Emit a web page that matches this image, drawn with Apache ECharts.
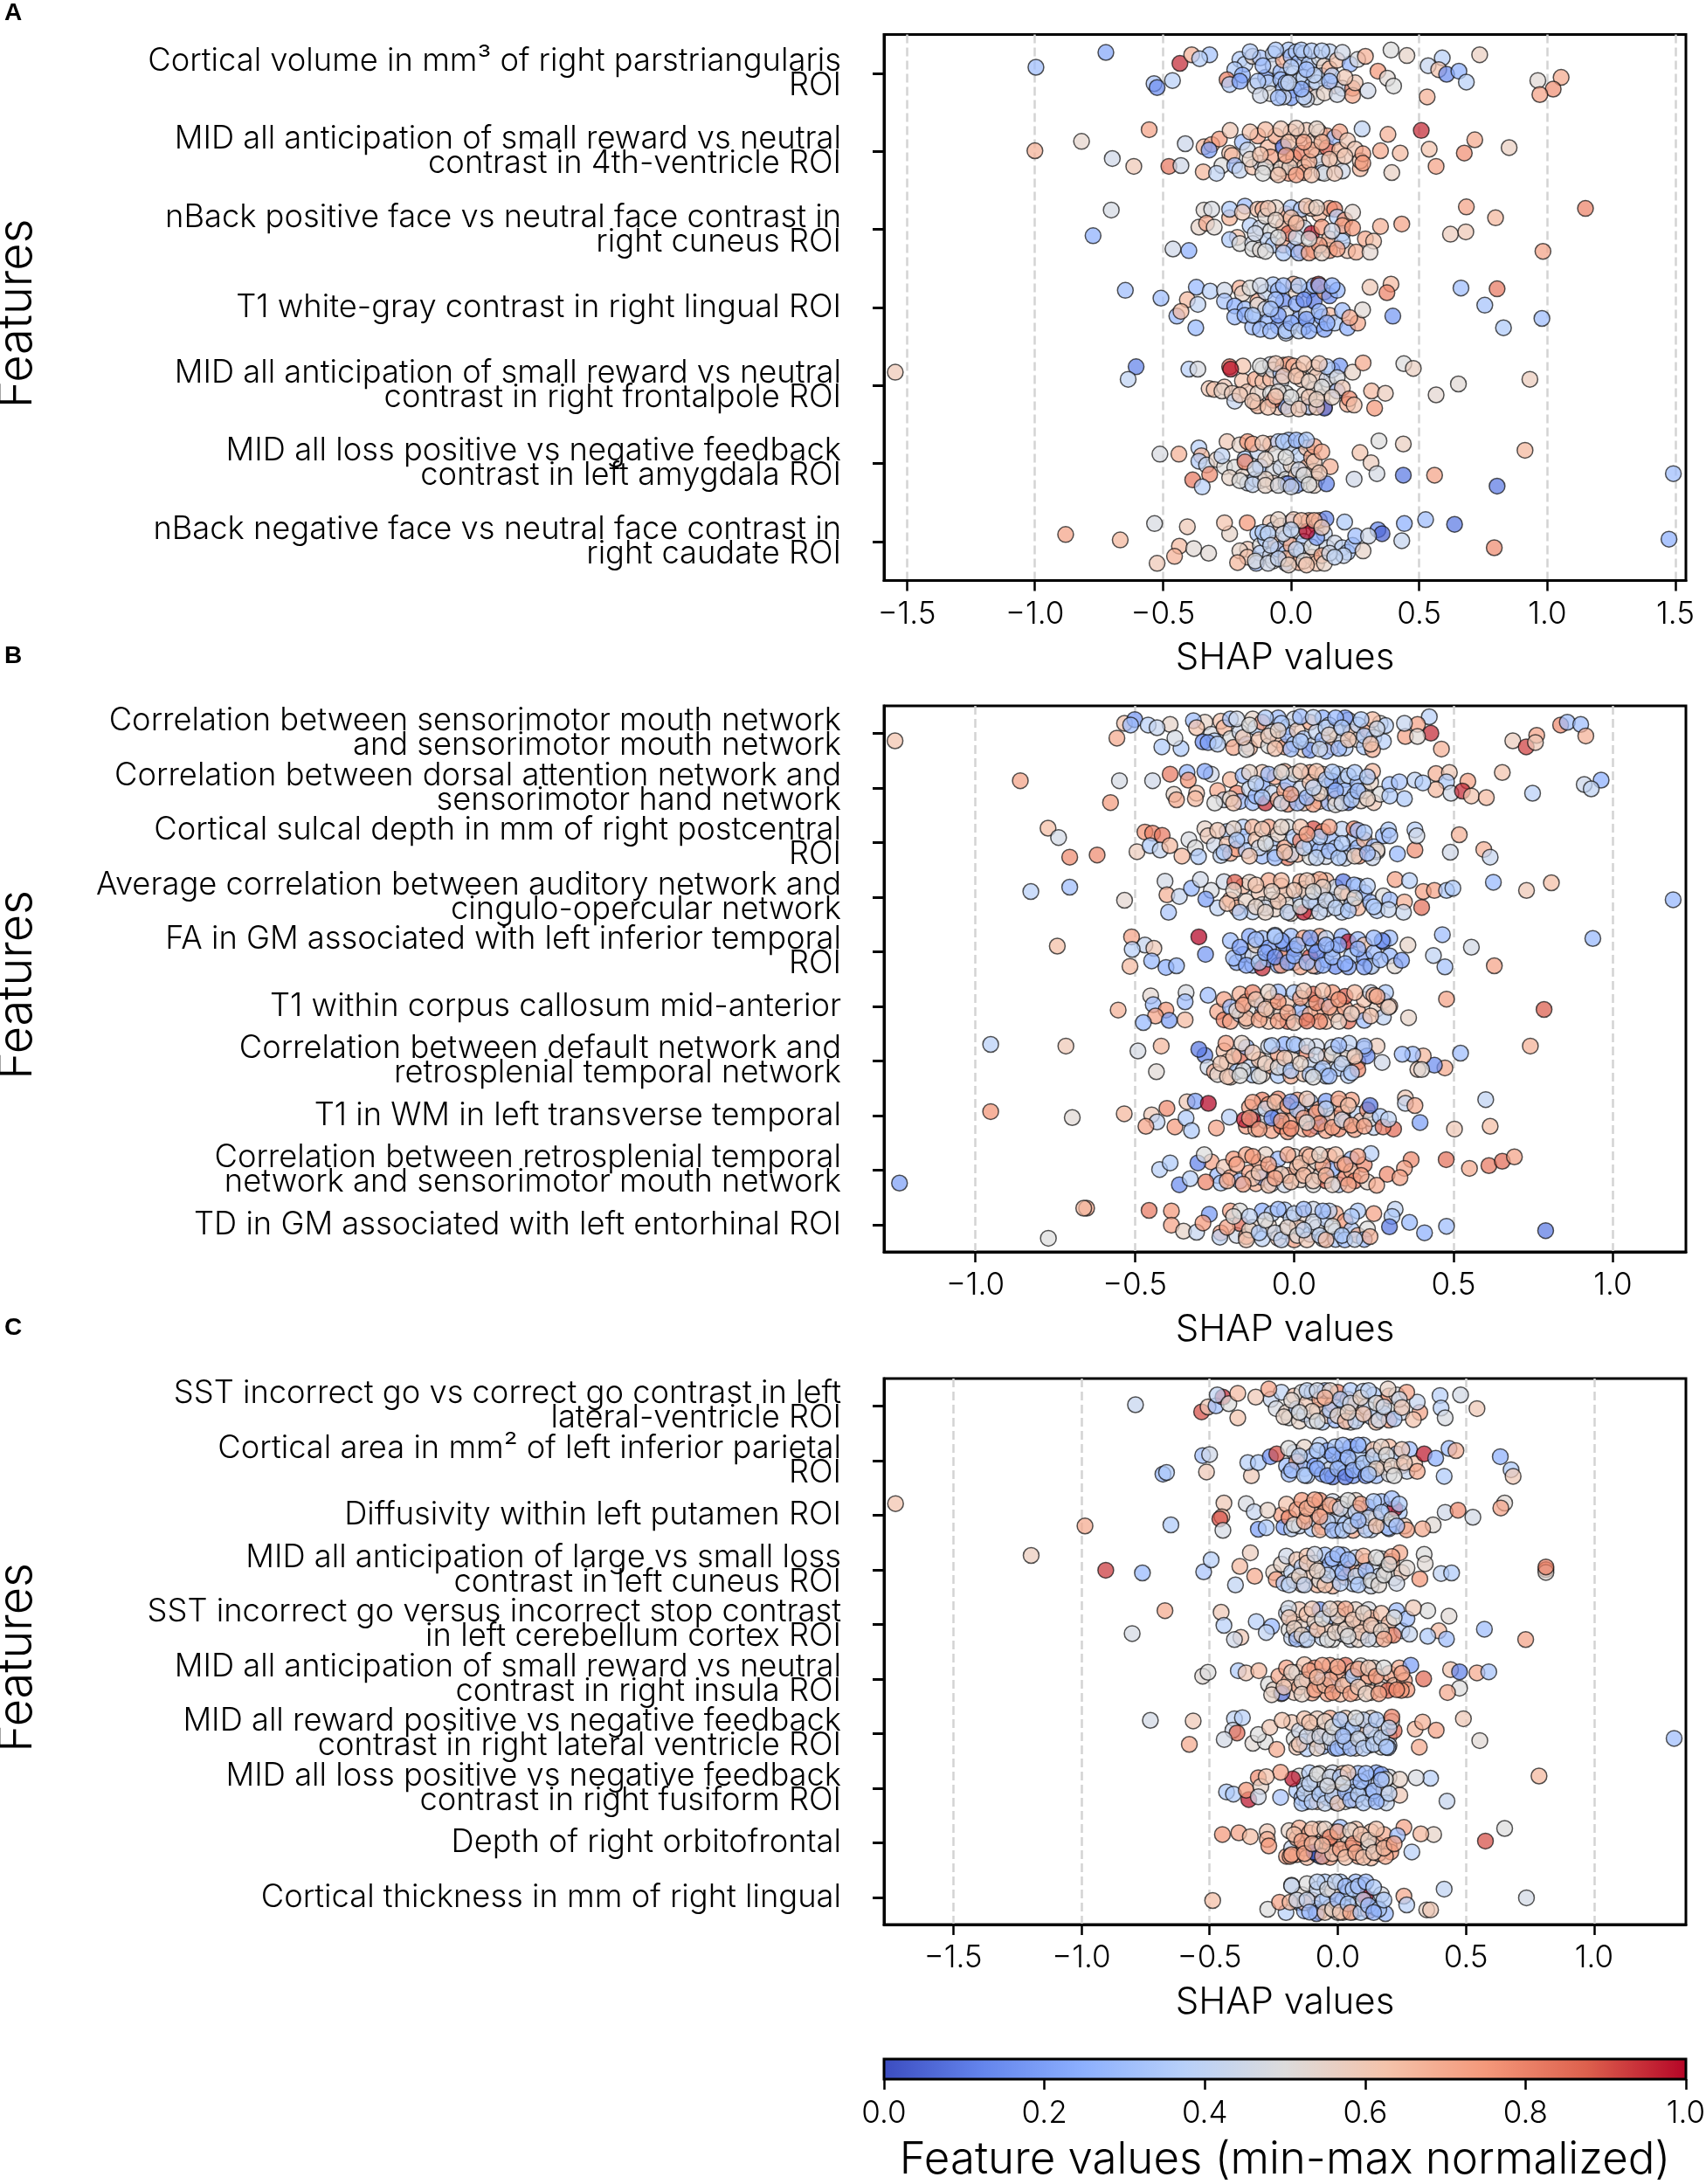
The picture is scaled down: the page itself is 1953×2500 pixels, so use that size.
<!DOCTYPE html>
<html><head><meta charset="utf-8">
<script src="https://cdn.jsdelivr.net/npm/echarts@6/dist/echarts.min.js"></script>
<style>html,body{margin:0;padding:0;background:#fff}#c{width:1953px;height:2500px}</style></head>
<body><div id="c"></div>
<script>
// each list: SHAP value, vertical jitter (row units), normalized feature value
const namesA=["Cortical volume in mm³ of right parstriangularis\nROI","MID all anticipation of small reward vs neutral\ncontrast in 4th-ventricle ROI","nBack positive face vs neutral face contrast in\nright cuneus ROI","T1 white-gray contrast in right lingual ROI","MID all anticipation of small reward vs neutral\ncontrast in right frontalpole ROI","MID all loss positive vs negative feedback\ncontrast in left amygdala ROI","nBack negative face vs neutral face contrast in\nright caudate ROI"];
const namesB=["Correlation between sensorimotor mouth network\nand sensorimotor mouth network","Correlation between dorsal attention network and\nsensorimotor hand network","Cortical sulcal depth in mm of right postcentral\nROI","Average correlation between auditory network and\ncingulo-opercular network","FA in GM associated with left inferior temporal\nROI","T1 within corpus callosum mid-anterior","Correlation between default network and\nretrosplenial temporal network","T1 in WM in left transverse temporal","Correlation between retrosplenial temporal\nnetwork and sensorimotor mouth network","TD in GM associated with left entorhinal ROI"];
const namesC=["SST incorrect go vs correct go contrast in left\nlateral-ventricle ROI","Cortical area in mm² of left inferior parietal\nROI","Diffusivity within left putamen ROI","MID all anticipation of large vs small loss\ncontrast in left cuneus ROI","SST incorrect go versus incorrect stop contrast\nin left cerebellum cortex ROI","MID all anticipation of small reward vs neutral\ncontrast in right insula ROI","MID all reward positive vs negative feedback\ncontrast in right lateral ventricle ROI","MID all loss positive vs negative feedback\ncontrast in right fusiform ROI","Depth of right orbitofrontal","Cortical thickness in mm of right lingual"];
const a0=[-.2,-.18,.36,-.18,-.12,.4,-.15,-.22,.55,-.22,-.05,.35,-.25,.08,.8,-.24,.14,.36,-.19,.02,.25,-.2,.1,.2,-.14,.16,.46,-.12,-.2,.33,-.1,.05,.18,-.07,-.25,.4,-.07,-.1,.45,-.09,.12,.38,-.08,.26,.5,-.04,-.02,.3,-.04,.08,.3,-.03,.2,.3,-.03,-.17,.68,-.01,-.3,.34,0,-.22,.3,.02,-.28,.36,.03,-.14,.3,.01,0,.47,.03,.1,.38,.01,.21,.36,0,.31,.2,.05,-.26,.42,.07,-.12,.34,.05,.05,.4,.08,.16,.35,.07,.27,.66,.11,-.2,.47,.13,-.1,.55,.12,.03,.38,.1,.12,.42,.1,.3,.5,.15,-.28,.4,.15,-.06,.66,.18,-.17,.62,.17,.16,.66,.2,.19,.42,.23,-.12,.27,.24,.19,.78,.24,.28,.7,.25,.12,.6,.3,.22,.45,.26,-.18,.48,.29,-.22,.68,.16,.03,.38,-.13,.1,.36,-.03,.3,.45,.06,.33,.45,-.723,-.27,.22,-.996,-.08,.3,-.434,-.13,.95,-.388,-.24,.68,-.318,-.24,.32,-.357,-.19,.37,-.535,.13,.33,-.523,.18,.15,-.463,.09,.38,.39,-.3,.5,.452,-.23,.55,.59,-.2,.38,.535,-.1,.42,.576,-.05,.62,.607,.01,.15,.655,-.03,.25,.684,.11,.38,.736,-.24,.57,.531,.3,.68,.339,-.03,.75,.376,.06,.52,.4,.16,.5,.963,.09,.52,1.054,.05,.7,1.023,.2,.77,.971,.27,.72];
const a1=[-.34,-.06,.66,-.31,-.09,.72,-.28,-.16,.74,-.24,.02,.62,-.23,.05,.65,-.27,.18,.5,-.22,.18,.3,-.2,.24,.42,-.19,-.12,.3,-.17,-.02,.45,-.15,.2,.62,-.12,.15,.45,-.13,-.2,.72,-.09,-.05,.65,-.08,.07,.72,-.06,-.2,.7,-.06,.27,.5,-.03,-.06,.05,-.02,.15,.62,-.01,.28,.75,-.04,.22,.55,0,-.25,.65,.01,.08,.7,.03,-.2,.58,.04,.02,.8,.05,.2,.62,.05,.27,.72,.06,-.27,.6,.09,-.15,.58,.1,.05,.55,.12,.13,.45,.12,.27,.35,.11,-.25,.55,.14,-.2,.72,.14,-.05,.88,.17,-.18,.3,.18,.1,.55,.19,-.25,.72,.2,.25,.45,.19,-.02,.66,.22,-.14,.6,.25,-.03,.6,.27,.22,.65,.27,.12,.6,.28,.03,.72,.28,.15,.75,-.1,.2,.52,.07,.13,.68,-.005,.2,.55,-1,-.01,.68,-.818,-.13,.54,-.554,-.28,.72,-.698,.09,.45,-.614,.19,.6,-.477,.19,.82,-.43,.18,.45,-.413,-.1,.44,.508,-.27,.95,.378,-.22,.68,.717,-.15,.7,.851,-.05,.57,.676,.02,.77,.539,-.03,.62,.566,.19,.72,.393,.27,.56,.277,-.29,.4,.426,.02,.65,.349,-.01,.7,-.343,.26,.66,-.291,.28,.4,-.32,-.02,.2,-.238,-.27,.6];
const a2=[-.36,-.03,.55,-.34,-.25,.52,-.31,-.26,.48,-.33,-.08,.7,-.3,-.03,.52,-.24,-.15,.67,-.24,-.26,.35,-.18,-.3,.3,-.13,-.26,.62,-.11,-.26,.68,-.21,.1,.62,-.24,.13,.35,-.2,.18,.5,-.15,.18,.45,-.15,.25,.5,-.12,.26,.52,-.16,-.05,.38,-.12,-.02,.45,-.08,.02,.5,-.1,-.17,.52,-.09,.14,.4,-.07,.2,.35,-.03,.2,.7,-.03,-.05,.68,-.02,-.2,.72,0,-.28,.35,-.01,.05,.85,.01,.25,.3,.04,.27,.66,.03,-.12,.6,.04,-.26,.36,.05,-.02,.45,.09,.27,.8,.08,.05,.98,.11,-.2,.65,.12,-.03,.75,.14,.2,.8,.15,.27,.75,.15,-.27,.7,.17,-.26,.8,.15,.12,.62,.18,-.16,.38,.21,-.12,.75,.2,.05,.42,.22,.27,.6,.2,.15,.38,.2,-.05,.72,.24,-.22,.53,.24,-.02,.75,.29,.12,.7,.08,-.27,.62,-.702,-.25,.47,-.773,.08,.25,-.461,.25,.45,-.399,.27,.25,.684,-.29,.72,.798,-.15,.66,.622,.06,.58,.682,.03,.6,1.149,-.27,.8,.983,.28,.72,.432,-.07,.72,.349,-.04,.68,.322,.15,.62,.254,.29,.68,.308,.29,.53];
const a3=[-.647,-.22,.3,-.508,-.12,.3,-.37,-.26,.28,-.316,-.21,.38,-.405,-.1,.65,-.364,-.04,.4,-.446,.11,.28,-.43,.05,.65,-.372,.26,.28,-.26,-.22,.45,-.2,-.25,.68,-.19,-.18,.55,-.26,-.08,.33,-.22,-.02,.25,-.18,.02,.3,-.22,.12,.3,-.18,.1,.25,-.15,.25,.3,-.14,.1,.28,-.13,-.08,.7,-.13,-.03,.5,-.1,-.2,.42,-.1,.02,.45,-.09,.18,.28,-.07,-.29,.35,-.05,-.22,.3,-.05,.24,.2,-.03,-.08,.15,-.02,.08,.45,-.01,.28,.3,.01,-.3,.66,.02,-.2,.55,.02,-.05,.22,.03,.15,.22,.05,.25,.2,.06,.08,.45,.07,-.22,.25,.09,-.28,.3,.09,-.08,.1,.1,.22,.35,.12,.12,.2,.13,-.2,.7,.13,.28,.2,.15,-.15,.15,.15,.1,.65,.17,.2,.35,.18,-.22,.28,.2,.04,.3,.22,.26,.25,.26,.2,.7,-.02,.33,.4,.107,-.3,.92,.308,-.26,.6,.39,-.3,.65,.374,-.19,.8,.663,-.25,.3,.804,-.24,.82,.756,-.03,.32,.279,.03,.52,.397,.11,.18,.979,.14,.3,.829,.26,.35,.229,.13,.7];
const a4=[-.32,.04,.6,-.3,.05,.62,-.26,.02,.6,-.27,.07,.55,-.23,.1,.58,-.22,.2,.42,-.19,-.06,.62,-.17,.08,.6,-.14,.22,.62,-.13,.26,.65,-.14,-.08,.7,-.13,.1,.55,-.11,-.05,.62,-.11,-.22,.5,-.08,-.27,.46,-.08,-.08,.65,-.07,-.2,.48,-.03,-.26,.72,-.04,-.16,.32,-.04,-.05,.45,-.02,.1,.5,-.03,.22,.55,-.05,.28,.6,-.01,-.27,.72,.01,-.25,.68,.03,-.2,.6,.04,-.08,.6,.05,.12,.55,.04,.25,.5,.07,.28,.6,.09,-.23,.58,.1,-.12,.6,.09,.05,.55,.12,.15,.62,.13,.28,.78,.15,.0,.58,.14,-.08,.45,.16,-.2,.38,.19,-.25,.18,.14,-.24,.36,.18,-.1,.48,.18,.07,.3,.2,.03,.6,.24,-.17,.55,.22,.24,.68,-.08,.1,.5,-.02,.27,.2,.07,.27,.35,.13,.29,.08,-.07,.19,.85,-1.545,-.17,.6,-.605,-.24,.12,-.636,-.08,.4,-.399,-.21,.38,-.364,-.21,.48,-.24,-.24,.85,-.188,-.25,.62,-.236,-.21,.98,.281,-.29,.7,.44,-.28,.5,.477,-.22,.57,.653,-.02,.52,.566,.12,.53,.932,-.08,.58,.314,.07,.65,.368,.1,.58,.326,.29,.75,.227,.17,.78,.246,.25,.62];
const a5=[-.36,-.2,.38,-.35,-.1,.66,-.36,-.03,.36,-.33,.02,.42,-.29,-.05,.55,-.26,.04,.5,-.25,-.28,.6,-.22,.05,.5,-.2,-.24,.55,-.19,.17,.55,-.17,-.28,.75,-.18,-.06,.35,-.18,-.02,.8,-.17,.25,.42,-.14,.2,.4,-.13,-.15,.42,-.12,.04,.3,-.12,.22,.45,-.08,-.25,.68,-.07,.1,.48,-.07,.25,.58,-.05,-.28,.38,-.06,-.12,.5,-.04,.05,.45,-.02,.2,.5,-.01,-.3,.3,.0,-.2,.42,-.02,.26,.45,.0,.02,.55,.02,.15,.6,.04,-.28,.35,.03,-.1,.4,.04,.25,.5,.06,-.2,.62,.06,.05,.68,.08,-.08,.7,.09,.1,.58,.09,-.22,.72,.1,.2,.52,.09,.28,.55,-.27,-.1,.4,-.1,.2,.55,.02,.28,.2,.153,.04,.68,-.512,-.12,.48,-.438,-.12,.68,.343,-.29,.5,.438,-.25,.57,.269,-.14,.62,.312,-.01,.58,.913,-.17,.66,.335,.13,.47,.438,.15,.1,.56,.15,.72,.246,.2,.45,.804,.29,.1,1.492,.13,.3,.138,.26,.12,-.384,.21,.82,-.318,.14,.78,-.347,.3,.38,-.012,.26,.1];
const a6=[-.24,-.1,.55,-.17,.1,.6,-.2,.12,.55,-.17,.2,.62,-.13,-.1,.35,-.12,.05,.5,-.12,.15,.38,-.1,-.03,.35,-.08,-.24,.6,-.07,-.15,.42,-.06,.02,.65,-.08,.18,.45,-.07,.25,.5,-.05,.1,.3,-.04,-.2,.6,-.02,-.05,.4,-.02,.15,.38,-.02,.28,.3,0,.05,.7,0,-.25,.38,.01,.2,.62,.03,.27,.7,.03,-.13,.5,.05,.0,.35,.04,.12,.45,.07,-.27,.72,.08,.2,.68,.08,.07,.5,.1,-.2,.55,.1,.28,.62,.13,-.1,.42,.14,.08,.45,.12,.18,.7,.11,-.27,.65,.17,.02,.45,.2,.08,.4,.22,.14,.35,.24,.05,.3,.1,-.05,.2,-.02,.22,.66,.062,-.13,1,-.88,-.09,.72,-.667,-.02,.66,-.533,-.23,.48,-.405,-.19,.6,-.26,-.24,.62,-.171,-.24,.75,-.436,.06,.65,-.38,.09,.52,-.322,.15,.52,-.455,.19,.68,-.523,.28,.6,.209,-.25,.35,.136,-.29,.12,.339,-.15,.15,.355,-.1,.05,.442,-.23,.25,.525,-.28,.3,.638,-.22,.1,.432,-.01,.42,.252,-.07,.3,.302,-.07,.45,.793,.08,.78,1.475,-.03,.25,.281,.12,.55,.205,.18,.42,-.209,.27,.66,-.136,.28,.3];
const b0=[-.28,-.2,.55,-.26,.02,.48,-.25,.14,.38,-.23,-.22,.62,-.22,-.1,.66,-.2,.1,.5,-.19,.26,.7,-.2,-.26,.32,-.17,-.02,.45,-.15,.2,.3,-.13,-.26,.55,-.14,.27,.65,-.12,-.1,.38,-.11,.12,.62,-.1,-.2,.75,-.08,.23,.5,-.07,-.02,.45,-.05,.12,.62,-.05,-.28,.3,-.03,.25,.72,-.02,-.12,.35,-.02,.04,.28,0,.2,.38,0,-.26,.45,.01,-.05,.58,.03,.3,.55,.03,.1,.35,.05,-.2,.7,.06,.22,.45,.07,-.02,.42,.09,-.28,.25,.09,.12,.28,.11,-.15,.45,.12,.25,.65,.13,-.05,.52,.15,.15,.45,.17,-.24,.5,.16,.27,.38,.18,-.02,.62,.2,.12,.55,.2,-.15,.4,.23,-.05,.7,.22,.25,.35,.16,-.28,.18,.25,.08,.42,.27,-.18,.5,.28,.15,.38,-.15,.3,.5,.05,.31,.2,.1,.33,.3,-1.252,.14,.62,-.556,.09,.7,-.532,-.18,.62,-.5,-.25,.18,-.513,-.15,.3,-.458,-.15,.38,-.389,-.16,.55,-.43,-.1,.42,-.415,.25,.35,-.355,.28,.35,-.374,.09,.47,-.316,-.23,.3,-.306,-.1,.62,-.286,.16,.15,-.27,.17,.2,.424,-.3,.38,.429,0,.95,.387,-.16,.72,.349,.06,.72,.387,.06,.52,.462,.29,.68,.686,.14,.58,.728,.25,.92,.761,.04,.72,.757,.17,.6,.836,-.15,.78,.857,-.2,.3,.899,-.16,.3,.915,.05,.68,.246,-.25,.65,.287,-.14,.38,.346,-.18,.42,.246,.3,.68];
const b1=[-.26,-.25,.45,-.24,.05,.7,-.22,.22,.45,-.2,-.15,.66,-.18,.1,.8,-.17,.25,.3,-.16,-.22,.3,-.14,.02,.42,-.13,.27,.3,-.12,.15,.28,-.1,-.28,.6,-.1,-.05,.25,-.09,.28,.95,-.07,.1,.42,-.06,-.2,.7,-.05,.22,.68,-.03,-.3,.68,-.03,.05,.7,-.02,-.08,.3,0,.18,.3,0,-.25,.5,.02,.02,.45,.03,.28,.6,.05,-.28,.72,.05,-.1,.62,.06,.14,.55,.08,.25,.65,.09,-.25,.62,.11,-.05,.55,.12,.1,.42,.11,.28,.3,.14,-.25,.38,.13,.2,.62,.12,-.12,.15,.16,-.15,.35,.16,.05,.3,.17,.27,.1,.17,-.22,.4,.19,.13,.35,.2,-.08,.3,.21,.24,.55,.22,.05,.5,.25,.27,.6,.24,-.1,.55,.27,.12,.5,-.02,.3,.75,.06,.3,.72,.13,.31,.5,-.859,-.13,.72,-.548,-.13,.47,-.576,.27,.74,-.444,-.13,.45,-.389,-.25,.82,-.336,-.28,.28,-.28,-.3,.22,-.332,-.14,.76,-.377,.12,.55,-.369,.22,.7,-.306,.1,.62,-.31,.2,.65,-.249,.28,.5,.653,-.28,.62,.445,-.26,.68,.487,-.28,.6,.478,-.11,.35,.545,-.12,.72,.445,.03,.65,.492,.1,.45,.528,.06,.95,.556,.15,.62,.603,.18,.65,.748,.1,.38,.91,-.06,.44,.963,-.14,.25,.932,.02,.4,.246,-.3,.65,.379,-.14,.4,.404,-.09,.35,.3,-.06,.32,.33,-.11,.33,.346,.2,.35,.3,.15,.35];
const b2=[-.33,-.05,.48,-.31,.1,.5,-.3,.26,.35,-.28,-.25,.55,-.27,-.12,.58,-.25,.05,.45,-.23,.24,.4,-.21,-.2,.35,-.21,.03,.62,-.2,.2,.7,-.18,.12,.72,-.16,-.28,.38,-.16,-.1,.32,-.15,.15,.35,-.13,-.28,.66,-.12,-.05,.62,-.1,.25,.3,-.11,.1,.45,-.08,-.28,.72,-.07,.03,.35,-.06,.2,.42,-.05,-.15,.55,-.03,.1,.7,-.02,.28,.82,-.02,-.28,.5,0,-.1,.36,.01,.22,.66,.02,-.03,.8,.05,.27,.5,.06,-.25,.9,.05,.06,.3,.08,.14,.28,.09,-.2,.8,.1,.26,.45,.12,-.05,.3,.13,.1,.38,.15,-.24,.4,.17,.2,.3,.19,-.08,.35,.2,.1,.3,.22,-.05,.65,.25,.08,.3,.26,.17,.5,.28,-.12,.28,.16,.29,.45,-.772,-.26,.64,-.739,-.09,.46,-.704,.27,.78,-.618,.23,.78,-.493,.17,.58,-.468,-.19,.76,-.444,-.17,.8,-.414,-.13,.82,-.452,.06,.35,-.42,.14,.42,-.352,.25,.66,-.39,.06,.65,.518,-.14,.68,.379,.14,.77,.379,-.23,.38,.385,-.12,.45,.49,.18,.45,.595,.13,.68,.615,.27,.42,.296,-.23,.35,.3,-.12,.33,.324,.21,.28,.26,.14,.55,.204,.25,.76,.246,.28,.44,.188,-.25,.78];
const b3=[-.26,-.12,.48,-.24,.2,.4,-.22,-.28,.45,-.2,.05,.7,-.18,.2,.66,-.16,-.2,.65,-.15,.08,.55,-.13,.27,.4,-.14,-.27,.55,-.11,-.08,.6,-.1,.14,.5,-.08,-.3,.7,-.07,.05,.5,-.06,.22,.55,-.04,-.2,.62,-.03,-.05,.6,-.02,.15,.52,-.01,.3,.55,.02,-.28,.68,.02,.05,.35,.03,-.15,.65,.05,.26,.62,.06,-.28,.55,.07,.12,.36,.08,-.08,.3,.1,.22,.45,.1,-.3,.66,.12,.05,.35,.13,-.18,.45,.15,.28,.4,.17,-.05,.72,.18,.14,.35,.2,-.2,.35,.2,.2,.66,.22,-.08,.25,.24,.1,.3,.26,.25,.38,.28,-.02,.5,.3,.05,.3,.03,.28,.98,.04,-.08,.55,-.09,.2,.45,-.826,-.1,.38,-.704,-.18,.3,-.532,.06,.53,-.405,-.29,.46,-.399,-.04,.68,-.36,-.01,.42,-.394,.28,.33,-.322,-.16,.27,-.294,-.32,.45,-.277,.04,.2,-.186,-.27,.88,1.189,.05,.27,.625,-.27,.28,.729,-.12,.6,.807,-.26,.64,.317,-.32,.72,.362,-.3,.38,.405,-.1,.72,.44,-.12,.72,.478,-.12,.35,.498,-.16,.35,.4,.19,.84,.346,.09,.68,.343,.28,.43,.296,.23,.42,.154,-.28,.1,.188,-.22,.3,.08,-.32,.7];
const b4=[-.2,-.2,.3,-.18,.2,.25,-.16,.05,.3,-.14,-.28,.22,-.13,.25,.3,-.13,.08,.45,-.12,-.12,.55,-.1,.3,.95,-.1,-.24,.3,-.08,.14,.25,-.08,-.07,.2,-.06,-.3,.28,-.05,.25,.25,-.03,.1,.8,-.03,-.15,.2,-.01,-.28,.3,0,.2,.3,0,-.05,.1,.02,.28,.7,.03,-.25,.72,.05,.1,.9,.06,-.12,.3,.07,.27,.3,.08,-.28,.7,.1,.15,.25,.1,-.24,.4,.12,-.05,.35,.13,.27,.15,.15,-.28,.25,.17,-.18,.98,.18,.08,.35,.17,.28,.2,.2,-.22,.3,.22,.12,.2,.22,-.12,.62,.24,.26,.35,.25,.02,.3,.28,-.18,.2,.3,.08,.28,.3,-.25,.3,-.04,.25,.75,.06,.26,.66,-.743,-.1,.64,-.51,-.27,.72,-.468,-.12,.42,-.44,-.06,.6,-.508,-.04,.38,-.515,.27,.65,-.447,.17,.28,-.402,.29,.25,-.369,.26,.28,-.299,-.27,1,-.278,.05,.18,.465,-.31,.3,.357,-.12,.55,.556,-.08,.46,.437,.07,.4,.473,.28,.32,.628,.26,.72,.937,-.24,.28,.316,.26,.52,.276,-.2,.15,.337,.16,.2,.243,.27,.4];
const b5=[-.27,-.2,.3,-.24,.1,.7,-.22,.25,.8,-.22,-.12,.72,-.2,.02,.3,-.2,.28,.72,-.17,-.22,.68,-.17,.15,.42,-.15,.27,.6,-.15,-.08,.72,-.13,.05,.5,-.13,-.25,.8,-.1,.15,.72,-.1,-.02,.35,-.08,.28,.62,-.07,-.15,.65,-.07,.08,.55,-.05,-.26,.3,-.04,.14,.55,-.02,.28,.85,-.02,-.05,.6,0,-.25,.35,.02,.05,.45,.03,.22,.78,.05,-.12,.55,.06,-.22,.85,.08,.1,.7,.1,.28,.65,.1,-.05,.3,.12,-.25,.75,.13,.15,.65,.16,.04,.72,.16,-.18,.88,.17,.27,.85,.2,.1,.68,.22,-.12,.62,.22,.26,.3,.24,-.25,.45,.26,.05,.55,.28,-.1,.7,.28,.2,.4,.3,.0,.65,-.15,.22,.65,.02,.1,.3,-.552,.07,.68,-.45,-.19,.53,-.339,-.25,.48,-.442,-.03,.3,-.342,-.08,.3,-.402,.07,.75,-.435,.18,.72,-.473,.3,.28,-.342,.25,.65,-.392,.26,.2,.478,-.13,.72,.784,.06,.88,.359,.21,.55,.287,-.25,.35,.296,.02,.55,.25,-.2,.68];
const b6=[-.28,-.1,.12,-.27,.12,.45,-.25,.2,.7,-.24,.25,.52,-.22,-.18,.62,-.21,.02,.6,-.2,.3,.6,-.18,.2,.35,-.17,-.08,.85,-.15,-.25,.3,-.14,.12,.42,-.13,.26,.35,-.11,-.02,.62,-.1,.25,.55,-.08,-.26,.45,-.07,.1,.68,-.05,.27,.35,-.05,-.12,.72,-.03,-.3,.25,-.03,.13,.3,-.01,.28,.68,-.01,-.06,.55,.01,-.28,.28,.03,.24,.6,.04,-.15,.78,.05,.08,.42,.07,-.26,.45,.08,.2,.3,.1,-.08,.65,.1,.28,.4,.12,-.25,.42,.14,.14,.35,.15,-.03,.55,.17,.27,.38,.17,-.15,.52,.2,.02,.72,.22,-.22,.5,.2,.16,.78,-.952,-.3,.38,-.716,-.27,.6,-.49,-.18,.47,-.417,-.27,.66,-.432,.2,.52,-.299,-.21,.1,-.214,-.32,.72,-.164,-.32,.55,-.209,.29,.6,.741,-.27,.68,.522,-.14,.3,.473,.13,.7,.44,.08,.15,.405,-.09,.66,.372,-.12,.3,.339,-.12,.3,.388,.16,.58,.4,.16,.52,.276,.03,.45,.26,-.27,.58,.172,-.32,.4,.229,-.09,.15,.22,-.27,.3];
const b7=[-.15,.2,.72,-.14,-.15,.72,-.12,.25,.65,-.11,-.05,.42,-.1,-.28,.8,-.09,.1,.5,-.08,-.2,.75,-.07,.28,.72,-.05,-.3,.78,-.05,.03,.12,-.04,.2,.82,-.03,-.12,.55,-.02,.3,.75,-.01,.1,.72,.01,-.28,.72,.02,-.05,.75,.03,.25,.65,.05,-.25,.35,.06,.02,.35,.07,.2,.25,.08,-.12,.7,.09,.12,.12,.1,.28,.72,.1,-.26,.2,.12,.05,.62,.14,.25,.78,.14,-.22,.55,.15,-.05,.75,.16,.12,.68,.18,-.28,.72,.19,.26,.72,.2,-.02,.4,.21,.1,.62,.23,-.1,.75,.25,.22,.42,.24,.06,.5,.27,.02,.35,-.13,.08,.98,-.952,-.07,.76,-.696,.04,.52,-.533,-.03,.66,-.447,-.01,.6,-.399,-.13,.78,-.43,.12,.4,-.336,-.25,.6,-.31,-.26,.2,-.269,-.22,1,-.465,.2,.72,-.374,.21,.74,-.339,.05,.35,-.322,.28,.35,-.244,.23,.72,-.203,.03,.38,-.156,.08,.98,.601,-.29,.4,.349,-.32,.6,.349,-.22,.42,.379,-.18,.7,.395,.13,.2,.503,.25,.6,.615,.2,.64,.312,.25,.85,.279,.21,.82,.238,-.18,.1,.296,.07,.4];
const b8=[-.26,-.15,.72,-.24,.1,.3,-.23,.24,.35,-.22,-.05,.6,-.2,.14,.72,-.19,-.2,.75,-.17,.2,.3,-.15,-.28,.7,-.14,.05,.72,-.12,.25,.68,-.11,-.15,.72,-.1,.14,.2,-.09,-.28,.55,-.07,.25,.4,-.06,.02,.7,-.05,-.2,.3,-.03,.27,.45,-.02,.1,.75,0,-.25,.55,.01,-.05,.65,.02,.18,.55,.04,-.28,.68,.04,.05,.6,.06,.27,.5,.07,-.15,.55,.08,.12,.55,.1,.2,.85,.11,-.25,.72,.12,-.02,.25,.14,.27,.38,.15,-.12,.7,.16,.15,.8,.18,-.2,.3,.18,.02,.68,.19,.2,.82,.22,-.1,.78,.23,.22,.55,-.13,.15,.6,-1.238,.24,.2,-.422,-.01,.38,-.389,-.13,.35,-.302,-.13,.12,-.282,-.28,.5,-.36,.27,.15,-.326,.16,.38,-.277,.22,.8,.241,-.3,.38,.367,-.19,.78,.346,-.03,.72,.292,.08,.78,.332,.14,.72,.259,.28,.7,.477,-.19,.84,.55,-.03,.7,.611,-.08,.82,.653,-.16,.85,.691,-.24,.72];
const b9=[-.23,.15,.72,-.2,-.25,.72,-.18,.2,.45,-.17,-.02,.85,-.17,-.25,.5,-.15,.22,.75,-.13,.05,.55,-.1,-.25,.25,-.1,.26,.4,-.08,.02,.55,-.07,-.2,.4,-.05,.25,.6,-.03,-.27,.35,-.03,.12,.42,-.01,-.12,.4,0,.28,.72,.01,.03,.62,.03,-.2,.55,.05,.18,.35,.06,-.28,.45,.07,.05,.5,.09,.26,.42,.1,-.1,.38,.13,-.2,.7,.13,.12,.4,.13,.27,.35,.16,-.06,.75,.18,.1,.35,.2,-.25,.35,.2,.2,.68,.23,.08,.5,.25,-.2,.72,.22,.27,.3,-.14,.1,.55,-.651,-.3,.72,-.66,-.3,.65,-.455,-.26,.82,-.385,-.25,.75,-.385,.01,.72,-.771,.25,.5,-.347,.12,.55,-.306,.14,.42,-.266,-.19,.18,-.286,-.03,.75,-.233,.23,.4,.317,-.28,.4,.307,-.15,.35,.299,.04,.1,.362,-.04,.28,.409,.15,.25,.478,.03,.3,.789,.11,.1,.238,.22,.68,.159,.28,.3];
const c0=[-.26,-.12,.42,-.24,.05,.48,-.22,-.25,.4,-.2,.12,.55,-.19,.22,.5,-.17,-.18,.62,-.16,.05,.35,-.15,.28,.55,-.14,-.25,.5,-.13,.15,.38,-.12,-.05,.6,-.1,.27,.45,-.1,-.25,.45,-.08,.08,.62,-.07,-.12,.7,-.06,.3,.35,-.05,-.28,.3,-.04,.18,.6,-.02,-.02,.72,-.01,.26,.3,0,-.25,.8,.02,.05,.4,.03,.28,.35,.04,-.12,.68,.05,-.28,.35,.06,.12,.7,.07,-.05,.62,.08,.22,.45,.1,-.27,.4,.11,.02,.4,.13,.2,.38,.14,-.2,.35,.15,.3,.62,.17,-.05,.68,.18,.14,.35,.2,-.18,.72,.2,.26,.75,.23,-.2,.5,.25,.12,.45,.05,.3,.5,-.1,.1,.55,-.789,-.02,.42,-.531,.11,.9,-.506,.02,.6,-.475,0,.3,-.448,-.16,.95,-.47,-.2,.4,-.425,-.04,.5,-.39,-.23,.65,-.39,.22,.62,-.32,-.16,.6,-.269,-.31,.72,.399,-.19,.38,.479,-.2,.46,.403,.04,.38,.419,.22,.48,.543,.05,.6,.32,.12,.72,.295,.25,.62,.31,-.07,.42,.269,-.25,.72,.196,-.31,.55];
const c1=[-.2,.1,.3,-.19,.25,.3,-.17,-.15,.35,-.16,.02,.72,-.13,-.24,.55,-.13,.15,.28,-.12,.28,.35,-.1,-.08,.3,-.09,.1,.2,-.07,-.28,.4,-.06,.25,.22,-.05,.02,.35,-.04,-.18,.22,-.03,.16,.45,-.01,-.25,.35,-.02,.3,.1,.01,.05,.25,.02,-.1,.22,.03,.22,.3,.05,-.25,.15,.06,.05,.48,.06,.28,.18,.08,-.12,.35,.09,.15,.3,.1,-.28,.35,.13,.0,.35,.13,.2,.5,.14,-.2,.62,.15,.28,.3,.17,-.05,.4,.18,.12,.62,.2,-.25,.65,.2,.25,.48,.23,-.12,.35,.25,.1,.68,.27,.2,.42,.28,-.2,.3,.3,.06,.62,-.527,-.09,.3,-.5,-.11,.45,-.512,.21,.6,-.682,.25,.28,-.668,.22,.35,-.337,.28,.6,-.351,.04,.38,-.31,.04,.35,-.263,-.07,.15,-.238,-.12,.9,-.192,-.22,.5,.337,-.12,.97,.382,-.04,.25,.434,-.22,.3,.461,-.18,.68,.415,.29,.35,.634,-.07,.25,.676,.17,.35,.684,.29,.6,.31,.2,.7];
const c2=[-.22,.0,.72,-.21,.22,.2,-.2,-.2,.62,-.19,.05,.78,-.18,.25,.4,-.16,-.1,.72,-.15,.2,.42,-.14,-.27,.75,-.12,.02,.65,-.1,.25,.35,-.1,-.18,.62,-.08,.1,.45,-.07,-.27,.78,-.06,.22,.8,-.05,-.05,.7,-.03,.15,.35,-.02,-.25,.45,0,.05,.4,0,.28,.42,.02,-.2,.5,.03,.16,.35,.05,-.08,.45,.06,.28,.7,.07,-.27,.55,.09,.05,.35,.1,.2,.65,.12,-.15,.15,.13,.27,.4,.15,.05,.6,.17,-.25,.3,.18,.18,.5,.2,-.1,.35,.2,.25,.35,.24,-.05,.35,.26,.2,.6,-.005,-.15,.7,.08,-.12,.6,-1.725,-.21,.62,-.986,.2,.7,-.651,.18,.35,-.444,-.22,.6,-.452,.03,.65,-.46,.07,.9,-.448,.28,.47,-.357,-.21,.48,-.326,-.06,.42,-.273,-.09,.55,-.31,.26,.2,-.279,.23,.35,.223,-.12,.98,.419,-.05,.45,.469,-.09,.78,.527,.04,.46,.651,-.22,.52,.636,-.13,.72,.372,.18,.52,.331,.25,.7,.269,.27,.72,.197,.23,.3,.211,-.3,.3];
const c3=[-.25,.05,.55,-.24,.18,.72,-.22,-.1,.55,-.21,.25,.35,-.2,-.25,.45,-.18,.05,.4,-.17,.2,.55,-.16,-.18,.6,-.14,.27,.6,-.14,-.05,.38,-.12,-.25,.62,-.1,.12,.6,-.09,-.12,.55,-.08,.28,.66,-.06,.02,.48,-.05,-.27,.32,-.03,-.1,.25,-.02,.2,.4,-.02,.3,.65,0,.05,.35,.02,-.27,.32,.03,-.12,.25,.03,.14,.7,.06,.26,.38,.05,-.02,.72,.07,-.22,.4,.09,.05,.55,.11,-.15,.72,.12,.2,.38,.13,.3,.45,.14,-.02,.45,.16,.12,.4,.17,-.2,.5,.19,.02,.55,.21,-.15,.72,.22,.15,.5,.25,.05,.6,.27,-.03,.52,-1.196,-.26,.58,-.905,.01,.93,-.762,.06,.28,-.523,.04,.33,-.494,-.18,.38,-.341,-.31,.58,-.382,-.06,.65,-.324,.12,.7,-.399,.28,.4,.812,0,.8,.812,.05,.52,.812,-.05,.8,.403,.07,.4,.444,.06,.35,.337,-.28,.5,.341,-.11,.52,.32,.17,.75,.242,-.31,.7,.211,-.24,.72];
const c4=[-.2,-.2,.42,-.19,.1,.5,-.18,.25,.42,-.17,-.05,.62,-.16,.2,.6,-.15,-.27,.6,-.14,.05,.55,-.13,.28,.4,-.12,-.18,.62,-.1,.15,.35,-.09,-.05,.55,-.07,-.27,.18,-.06,.25,.42,-.05,.08,.6,-.03,-.15,.3,-.02,.28,.5,0,-.28,.62,.01,.02,.6,.02,.18,.42,.04,-.18,.6,.05,.28,.45,.07,-.27,.55,.07,.08,.55,.09,-.05,.62,.11,.2,.66,.12,-.27,.48,.13,-.12,.7,.14,.08,.52,.15,.27,.5,.17,-.2,.62,.2,-.02,.65,.2,.2,.55,.23,-.25,.3,.25,.12,.38,.27,-.1,.3,.28,.18,.42,-.674,-.25,.7,-.455,-.22,.6,-.802,.17,.47,-.444,.02,.38,-.318,-.05,.38,-.258,.04,.28,-.279,.15,.4,-.378,.24,.6,-.403,.28,.45,-.192,-.29,.46,.572,.09,.3,.733,.28,.72,.434,-.15,.52,.351,-.25,.5,.295,-.3,.6,.394,.12,.65,.424,.27,.3,.351,.22,.35,.217,.2,.8];
const c5=[-.27,.1,.5,-.25,.2,.55,-.23,-.05,.7,-.22,.27,.55,-.2,-.2,.72,-.19,.05,.65,-.17,.25,.58,-.16,-.12,.5,-.15,.15,.68,-.13,-.26,.62,-.12,.02,.72,-.1,.26,.72,-.09,-.2,.78,-.07,.12,.72,-.06,-.05,.35,-.04,.27,.72,-.03,-.25,.72,-.01,.12,.3,0,-.1,.75,.01,.28,.65,.03,-.25,.85,.04,.05,.58,.06,-.15,.65,.07,.25,.65,.09,-.24,.5,.1,.08,.55,.12,-.05,.72,.13,.25,.65,.14,-.2,.55,.17,.03,.52,.17,.2,.58,.2,-.1,.72,.22,.12,.65,.24,-.2,.68,.26,.03,.72,.27,.2,.75,-.527,-.05,.52,-.506,-.12,.5,-.388,-.15,.35,-.358,-.11,.6,-.308,-.15,.65,.44,-.17,.62,.475,-.13,.12,.475,.17,.5,.428,.25,.7,.543,-.11,.7,.589,-.13,.32,.335,0,.85,.285,-.25,.2,-.217,.26,.1,-.258,.29,.55,.196,.21,.85,.248,.21,.75];
const c6=[-.18,-.2,.6,-.17,.1,.5,-.16,.25,.6,-.15,-.05,.45,-.13,-.27,.62,-.13,.15,.35,-.12,.28,.38,-.1,-.1,.55,-.09,.1,.6,-.08,-.27,.58,-.06,.24,.3,-.05,-.05,.6,-.04,.15,.5,-.03,-.28,.7,-.01,.27,.25,.0,-.12,.38,.01,.08,.45,.02,.25,.3,.03,-.28,.6,.04,-.05,.33,.06,.15,.55,.07,.27,.55,.08,-.22,.3,.09,.04,.4,.11,-.12,.62,.12,.22,.42,.13,-.28,.55,.15,.08,.5,.17,.25,.5,.18,-.15,.55,.2,.05,.45,.2,.22,.4,.22,-.05,.85,.21,-.22,.5,-.731,-.24,.46,-.564,-.23,.6,-.579,.2,.7,-.403,-.27,.4,-.372,-.29,.38,-.409,-.06,.45,-.393,-.01,.85,-.443,.11,.46,-.331,.18,.52,-.283,.15,.5,-.238,.29,.7,-.31,.02,.5,-.265,-.11,.6,-.217,-.24,.62,.49,-.27,.6,.554,.13,.52,1.312,.09,.3,.318,.25,.7,.384,-.06,.72,.302,-.08,.65,.331,-.21,.68,.211,-.3,.8,.196,.26,.33];
const c7=[-.16,.05,.35,-.15,-.22,.5,-.14,.18,.33,-.13,-.05,.4,-.12,.25,.3,-.11,-.28,.38,-.1,.1,.5,-.09,-.15,.45,-.08,.25,.62,-.07,-.27,.5,-.06,.05,.4,-.05,-.1,.45,-.04,.18,.32,-.02,-.28,.45,-.01,.26,.28,0,-.05,.62,.01,.12,.35,.02,-.27,.6,.03,.25,.5,.05,-.15,.3,.06,.08,.35,.07,.22,.55,.08,-.27,.3,.1,.02,.35,.12,-.18,.3,.12,.2,.48,.13,.1,.32,.15,-.28,.25,.16,-.1,.45,.17,.2,.3,.18,.03,.55,.19,.27,.42,.2,-.2,.48,.17,-.25,.2,-.02,.1,.55,.785,-.22,.66,.362,-.18,.38,.306,-.19,.48,.426,.24,.42,-.434,.07,.35,-.407,.11,.35,-.347,.21,.98,-.357,.04,.75,-.31,-.19,.78,-.3,-.03,.55,-.176,-.17,.98,-.223,-.29,.72,-.279,-.21,.62,-.31,.16,.45,-.223,.17,.33,.242,.13,.6,.242,-.16,.55,.186,-.16,.5];
const c8=[-.2,.25,.72,-.19,-.22,.55,-.18,.1,.42,-.16,.22,.75,-.16,-.08,.7,-.15,-.27,.68,-.13,.1,.72,-.12,.27,.65,-.11,-.18,.72,-.09,.05,.5,-.08,.22,.1,-.07,-.25,.62,-.05,.13,.68,-.04,-.08,.85,-.03,.27,.72,-.01,-.2,.55,.0,.05,.65,.01,-.28,.3,.02,.2,.7,.04,-.1,.55,.05,.1,.62,.07,-.25,.62,.08,.25,.72,.1,-.05,.7,.11,.15,.55,.13,-.2,.62,.13,.28,.65,.15,.02,.72,.16,.2,.6,.18,-.15,.7,.2,.05,.72,.12,.08,.5,-.03,.08,.8,-.45,-.15,.75,-.386,-.18,.72,-.341,-.11,.64,-.275,-.2,.6,-.275,-.06,.68,-.269,.06,.75,.651,-.26,.5,.576,-.03,.9,.289,.17,.38,.374,-.15,.55,.324,-.16,.66,.258,-.28,.72,.233,-.13,.3,.207,.17,.75,.186,.25,.7,-.186,.25,.72,-.068,.25,.12,-.093,.17,.05];
const c9=[-.18,-.22,.48,-.15,.1,.3,-.14,-.05,.52,-.13,.25,.3,-.12,-.25,.5,-.1,.05,.62,-.09,.2,.35,-.08,-.15,.42,-.07,.27,.65,-.05,-.28,.35,-.04,.02,.4,-.03,.18,.6,-.02,-.12,.55,0,.28,.55,.01,-.28,.35,.02,.05,.38,.03,.2,.3,.04,-.1,.35,.06,.27,.62,.07,-.28,.3,.08,.08,.5,.09,.2,.55,.09,-.08,.38,.1,-.22,.33,.12,.25,.68,.14,.05,.35,.15,.2,.35,.17,-.05,.48,-.13,.1,.65,.02,.28,.66,-.488,.06,.64,-.273,.22,.5,-.202,.28,.38,-.227,.09,.72,-.186,.09,.65,-.18,-.21,.42,.415,-.15,.4,.736,.01,.46,.258,-.02,.7,.269,.14,.38,.347,.23,.55,.362,.23,.6,.186,.3,.28,.107,0,.98,-.083,.3,.2];
// additional points read from the dense middle of each row
const a0x=[-.16,-.28,.36,-.12,.28,.45,-.06,-.3,.34,-.05,.31,.3,-.02,.12,.3,0,-.08,.38,.04,-.3,.34,.05,.3,.38,.08,-.29,.36,.09,.02,.4,.12,-.29,.38,.13,.25,.55,.15,.1,.3,.18,.27,.45,.2,-.27,.45,.21,.05,.6,.04,.2,.25,-.01,.12,.42,.06,-.05,.3,-.11,-.1,.3];
const a1x=[-.16,-.25,.62,-.1,-.28,.65,-.04,-.29,.6,-.01,-.12,.62,.02,-.3,.58,.08,-.02,.7,.1,-.29,.55,.13,.28,.5,-.11,.28,.5,-.05,.3,.62,.02,.3,.72,.08,.3,.62,.15,.1,.62,.21,.06,.6,.17,.28,.6,-.16,.1,.55,-.02,.05,.72,-.12,.04,.62,.12,-.12,.66,.05,-.12,.72];
const a2x=[-.19,-.22,.6,-.1,.28,.5,-.06,-.28,.55,-.05,.1,.5,-.03,.3,.35,.0,-.15,.62,.02,.1,.45,.03,.3,.3,.06,-.3,.62,.07,.3,.72,.1,-.28,.55,.11,.2,.72,.07,.12,.5,.12,.3,.55,.16,.02,.45,-.14,.05,.45,-.09,-.27,.6,.02,-.08,.65,.18,.25,.72,-.06,-.12,.55];
const a3x=[-.16,-.25,.5,-.15,.1,.35,-.12,-.28,.45,-.12,.28,.3,-.08,.3,.3,-.06,-.1,.3,-.05,.1,.2,-.03,-.28,.3,-.02,.3,.35,.0,.2,.25,.03,-.28,.35,.03,.3,.4,.05,-.1,.15,.06,.15,.2,.07,.3,.25,.11,-.28,.28,.11,.05,.3,.14,.2,.25,.16,-.28,.25,-.08,.02,.32];
const a4x=[-.2,.12,.6,-.15,.2,.6,-.12,-.25,.5,-.06,-.28,.6,-.05,.08,.52,-.03,-.12,.6,-.01,.3,.55,.0,.15,.5,.02,-.12,.62,.03,.3,.6,.05,-.28,.62,.07,-.05,.55,.07,.15,.6,.1,.28,.6,.11,-.28,.6,.12,.02,.5,.16,.15,.55,.1,.18,.55,-.09,.28,.62,-.06,.14,.62];
const a5x=[-.24,.18,.55,-.2,.22,.5,-.15,-.25,.7,-.15,.27,.42,-.11,-.26,.6,-.1,-.05,.55,-.1,.28,.55,-.05,.28,.48,-.03,-.28,.35,-.02,-.08,.5,0,.3,.45,.02,-.3,.3,.03,.08,.45,.05,.15,.5,.06,-.3,.35,.07,.27,.5,.09,-.02,.6,.11,.12,.6,.12,-.15,.7,-.14,.07,.45];
const a6x=[-.14,.25,.5,-.11,-.12,.35,-.09,-.1,.4,-.09,.28,.45,-.05,-.28,.55,-.05,.22,.42,-.03,-.1,.45,-.01,.3,.55,.01,-.28,.6,.02,.1,.4,.04,-.27,.65,.05,.25,.5,.06,.3,.62,.09,-.27,.68,.13,.28,.55,.15,.15,.45,.17,.2,.4,-.08,.05,.42,.0,-.15,.4,.12,-.18,.6];
const b0x=[-.18,-.26,.45,-.16,.08,.6,-.14,-.15,.5,-.09,-.28,.35,-.08,.05,.58,-.06,.28,.62,-.04,-.18,.35,-.01,.29,.3,.02,-.3,.3,.02,.15,.35,.06,-.29,.4,.08,.29,.45,.1,-.1,.38,.11,.03,.55,.13,-.28,.28,.14,.28,.3,.15,-.1,.35,.17,.12,.6,.21,-.25,.35,.22,.05,.35,.24,.2,.62,.26,-.08,.45,-.24,.2,.38,-.05,-.05,.55];
const b1x=[-.2,.2,.55,-.19,.28,.62,-.14,-.28,.55,-.12,-.08,.4,-.1,.18,.35,-.08,-.25,.3,-.04,-.28,.5,-.04,.28,.45,.01,.28,.3,.02,-.3,.6,.04,.18,.3,.07,-.3,.62,.08,.1,.55,.1,-.15,.35,.12,-.29,.35,.13,.05,.25,.15,.28,.45,.18,.22,.35,.19,-.28,.35,.2,.06,.3,.23,.2,.55,.23,-.2,.35,-.01,.12,.72,.06,.0,.4];
const b2x=[-.24,-.22,.6,-.22,.18,.35,-.19,-.25,.55,-.18,-.04,.35,-.14,.25,.62,-.1,-.24,.6,-.09,.02,.5,-.06,.28,.3,-.04,-.28,.55,-.01,.22,.45,.02,-.28,.62,.03,.1,.4,.07,.28,.4,.08,-.1,.35,.11,-.28,.72,.11,.16,.3,.14,.28,.35,.15,.02,.35,.19,.25,.55,.2,-.22,.3,.23,.2,.3,.22,-.18,.35,-.03,.18,.62,.04,-.15,.72];
const b3x=[-.21,.12,.62,-.19,-.12,.55,-.17,.28,.35,-.12,.18,.55,-.12,-.22,.62,-.09,.28,.55,-.05,.08,.6,-.04,-.3,.65,-.02,.28,.4,0,-.12,.6,.02,.18,.5,.04,-.3,.6,.05,.08,.4,.08,.28,.42,.09,-.18,.55,.1,.06,.45,.13,.2,.4,.15,-.08,.55,.17,.25,.35,.19,.02,.5,.23,-.2,.38,.25,.18,.35,-.07,-.1,.55,.06,-.1,.5];
const b4x=[-.19,.12,.3,-.17,-.08,.2,-.15,.25,.22,-.12,-.22,.3,-.11,.2,.35,-.09,.02,.22,-.06,.1,.15,-.04,-.2,.2,-.02,.2,.22,0,.08,.25,.01,-.12,.3,.04,.2,.3,.05,-.25,.2,.07,.02,.15,.09,.25,.25,.12,.1,.3,.14,-.12,.22,.16,.22,.25,.2,-.05,.25,.22,.28,.2,.25,-.25,.28,.27,.15,.3,-.06,-.28,.35,.1,-.12,.25];
const b5x=[-.18,.08,.55,-.16,-.02,.72,-.12,-.12,.6,-.11,.25,.7,-.09,.05,.62,-.05,-.08,.75,-.05,.27,.72,-.02,.12,.7,.0,.3,.6,.02,-.15,.72,.03,-.28,.6,.05,.15,.68,.07,-.06,.78,.08,.28,.78,.09,-.28,.62,.11,.02,.72,.14,-.12,.75,.14,.28,.55,.18,.14,.55,.19,-.25,.65,.24,.18,.62,.26,-.18,.7,-.08,-.26,.55,.04,.27,.82];
const b6x=[-.23,.05,.6,-.19,-.08,.62,-.16,.18,.5,-.13,-.15,.6,-.11,.28,.5,-.09,.05,.55,-.07,-.28,.35,-.05,.12,.5,-.03,-.05,.6,-.01,.18,.35,.0,-.3,.35,.02,.05,.55,.04,-.27,.45,.05,.25,.35,.07,-.1,.45,.09,.14,.35,.11,.28,.3,.12,-.12,.5,.14,-.28,.3,.15,.05,.4,.18,.22,.35,.19,-.08,.58,-.17,.27,.5,.06,.3,.5];
const b7x=[-.14,.05,.72,-.13,-.24,.72,-.11,.25,.72,-.09,-.12,.45,-.07,.05,.15,-.06,-.24,.62,-.04,.1,.72,-.02,-.18,.75,-.01,.24,.78,.01,-.1,.35,.03,.05,.72,.04,-.3,.6,.05,.25,.8,.07,-.05,.75,.08,.15,.75,.1,-.12,.4,.12,.22,.72,.14,-.3,.72,.15,.08,.45,.17,-.18,.62,.18,.18,.72,.22,.2,.72,-.01,-.25,.2,.04,.13,.5];
const b8x=[-.21,.2,.7,-.18,-.1,.72,-.16,.26,.72,-.13,-.25,.75,-.11,.05,.6,-.08,-.1,.72,-.08,.28,.62,-.04,.08,.55,-.02,-.28,.7,-.01,.22,.62,.02,-.12,.62,.03,.1,.65,.05,-.25,.65,.06,.2,.6,.09,-.08,.72,.1,.1,.65,.12,.27,.55,.13,-.28,.62,.16,-.1,.72,.17,.27,.7,.2,-.25,.72,.21,.1,.72,-.06,.15,.72,.08,-.28,.55];
const b9x=[-.21,.05,.72,-.19,-.15,.5,-.15,.28,.6,-.14,-.15,.4,-.11,.15,.35,-.09,-.08,.5,-.06,.15,.45,-.05,-.28,.3,-.04,.28,.4,-.02,.05,.55,0,-.2,.4,.01,.2,.5,.03,-.28,.3,.04,.28,.6,.06,-.05,.45,.08,.2,.4,.1,.28,.65,.11,-.25,.4,.12,.03,.5,.15,.2,.35,.18,-.15,.35,.19,.27,.42,.03,.1,.4,.09,-.25,.3];
const c0x=[-.21,.2,.55,-.18,-.1,.52,-.15,.12,.5,-.12,-.28,.4,-.08,-.28,.45,-.08,.28,.5,-.03,.08,.35,-.03,-.28,.55,0,.18,.55,.01,-.12,.35,.03,.28,.65,.05,-.05,.45,.07,.28,.4,.09,-.15,.55,.1,.15,.62,.12,-.28,.4,.15,-.05,.5,.16,.26,.45,.18,.02,.45,.22,.24,.35,.24,-.12,.45,.25,.03,.6,-.05,-.15,.68,.04,.12,.55];
const c1x=[-.18,.18,.3,-.15,-.08,.4,-.13,.27,.35,-.08,-.18,.35,-.08,.15,.25,-.04,.28,.2,-.02,-.1,.25,0,.15,.3,.02,-.28,.3,.03,.3,.1,.04,-.05,.3,.06,.18,.25,.08,-.28,.25,.1,.05,.35,.11,.28,.15,.14,-.08,.4,.15,.15,.55,.17,-.25,.55,.19,-.1,.5,.21,.1,.55,.22,.28,.5,.25,-.2,.6,.26,.04,.58,.12,.25,.35];
const c2x=[-.17,.18,.5,-.13,.12,.7,-.12,-.12,.7,-.09,-.28,.72,-.07,.27,.65,-.04,.12,.4,-.03,-.18,.7,-.02,.28,.3,.01,-.12,.45,.02,.28,.35,.04,-.27,.5,.05,.2,.4,.07,-.05,.4,.09,-.2,.72,.11,.27,.38,.12,.05,.45,.14,-.25,.35,.15,.2,.62,.17,-.05,.35,.21,.08,.5,.23,.2,.3,.24,-.2,.35,.08,.1,.3,-.07,.03,.72];
const c3x=[-.19,.28,.4,-.15,.12,.55,-.13,.28,.4,-.12,-.12,.6,-.09,-.28,.45,-.07,.2,.5,-.05,.28,.62,-.04,.1,.42,-.02,-.2,.3,0,-.28,.3,.01,.25,.38,.02,.05,.28,.04,-.18,.3,.07,.12,.42,.08,.28,.35,.1,-.25,.65,.11,.02,.3,.13,.2,.5,.15,-.22,.5,.16,.28,.52,.18,.1,.5,.2,-.1,.5,.23,.25,.45,-.08,.02,.55];
const c4x=[-.19,-.12,.6,-.17,.08,.55,-.16,.27,.3,-.14,.2,.55,-.12,.28,.4,-.1,-.28,.6,-.08,.1,.62,-.06,-.1,.5,-.04,.28,.5,-.01,.15,.55,.0,-.15,.55,.03,-.28,.7,.03,.1,.55,.06,-.08,.6,.08,.28,.55,.09,.15,.6,.1,-.2,.55,.12,.27,.45,.13,.02,.6,.17,.12,.55,.18,.27,.7,.22,-.12,.5,.04,.22,.5,-.03,-.28,.55];
const c5x=[-.21,.15,.6,-.18,-.12,.55,-.14,.05,.55,-.14,.28,.55,-.11,-.15,.72,-.09,.2,.72,-.06,-.25,.72,-.05,.12,.65,-.03,.02,.7,-.02,.25,.75,.0,-.22,.7,.02,.12,.65,.05,.27,.72,.06,-.05,.35,.08,-.18,.72,.08,.15,.6,.11,.27,.55,.12,-.2,.6,.15,-.05,.75,.16,.27,.72,.18,-.2,.5,.23,.2,.78,.25,-.1,.72,-.08,-.03,.65];
const c6x=[-.15,.2,.6,-.12,.05,.45,-.11,-.2,.62,-.08,.27,.55,-.07,.05,.45,-.05,-.22,.55,-.03,.08,.45,-.02,-.12,.5,0,.27,.3,.01,-.25,.35,.03,.15,.4,.05,.27,.3,.06,-.12,.35,.08,.1,.45,.1,.27,.38,.1,-.25,.4,.13,-.05,.4,.14,.2,.38,.15,-.25,.35,.17,.08,.4,.19,.25,.35,.2,-.1,.4,.02,.05,.33,.07,-.28,.5];
const c7x=[-.14,.28,.35,-.13,.1,.4,-.11,-.08,.4,-.1,.25,.38,-.08,-.25,.5,-.07,.12,.35,-.05,.28,.42,-.03,-.2,.45,-.02,.15,.38,0,.28,.6,.01,-.2,.35,.03,.08,.3,.04,-.28,.6,.05,.22,.3,.08,.12,.38,.09,-.12,.3,.1,.27,.35,.11,-.27,.3,.14,.05,.3,.15,.25,.28,.17,-.15,.3,.2,.1,.4,.02,-.08,.5,-.04,-.04,.48];
const c8x=[-.18,.22,.72,-.17,-.15,.62,-.14,-.03,.72,-.13,.2,.72,-.1,-.25,.62,-.1,.02,.68,-.06,.25,.72,-.05,-.25,.55,-.03,-.1,.78,-.02,.2,.6,0,-.2,.7,.01,.12,.72,.03,.27,.62,.05,-.22,.55,.06,.02,.78,.07,.18,.7,.09,-.15,.62,.1,.27,.62,.12,-.05,.55,.14,.18,.6,.15,-.25,.62,.18,.1,.65,.22,.02,.72,-.06,.05,.62];
const c9x=[-.16,.05,.45,-.12,.05,.42,-.11,.27,.3,-.08,-.28,.4,-.06,.08,.35,-.05,.28,.6,-.04,-.15,.48,-.02,.22,.55,-.01,-.28,.42,0,.05,.3,.01,.27,.6,.03,-.2,.3,.04,.12,.35,.05,.28,.7,.06,-.15,.35,.08,-.2,.33,.09,.28,.35,.1,.05,.42,.11,-.28,.3,.12,.15,.3,.14,-.18,.35,.16,.22,.35,.18,.05,.35,.14,.28,.25];
const coolwarm=["#3b4cc0","#6485ec","#8db0fe","#b8d0f9","#dddcdc","#f4c3ab","#f4987a","#dd604d","#b40426"];
const FONT="Inter";
const WEIGHT=300;
const panels=[
 {rows:[a0.concat(a0x),a1.concat(a1x),a2.concat(a2x),a3.concat(a3x),a4.concat(a4x),a5.concat(a5x),a6.concat(a6x)],names:namesA,top:39.5,height:625,xmin:-1.589,xmax:1.541,ticks:[-1.5,-1,-.5,0,.5,1,1.5]},
 {rows:[b0.concat(b0x),b1.concat(b1x),b2.concat(b2x),b3.concat(b3x),b4.concat(b4x),b5.concat(b5x),b6.concat(b6x),b7.concat(b7x),b8.concat(b8x),b9.concat(b9x)],names:namesB,top:808,height:625,xmin:-1.2866,xmax:1.229,ticks:[-1,-.5,0,.5,1]},
 {rows:[c0.concat(c0x),c1.concat(c1x),c2.concat(c2x),c3.concat(c3x),c4.concat(c4x),c5.concat(c5x),c6.concat(c6x),c7.concat(c7x),c8.concat(c8x),c9.concat(c9x)],names:namesC,top:1578,height:625,xmin:-1.77,xmax:1.358,ticks:[-1.5,-1,-.5,0,.5,1]}
];
const LEFT=1012,WIDTH=918;
const grid=[],xAxis=[],yAxis=[],series=[];
const txt={fontFamily:FONT,fontWeight:WEIGHT,color:"#000"};
panels.forEach((p,i)=>{
  grid.push({left:LEFT,width:WIDTH,top:p.top,height:p.height,show:true,borderColor:"#000",borderWidth:3,backgroundColor:"#fff",outerBoundsMode:"none"});
  xAxis.push({gridIndex:i,type:"value",min:p.xmin,max:p.xmax,name:"SHAP values",nameLocation:"middle",nameGap:68,
    nameTextStyle:{...txt,fontSize:42},
    axisLine:{show:true,onZero:false,lineStyle:{color:"#000",width:3}},
    axisTick:{show:true,length:12,customValues:p.ticks,lineStyle:{color:"#000",width:2.5}},
    axisLabel:{...txt,fontSize:35,margin:21,customValues:p.ticks,hideOverlap:false,showMinLabel:true,showMaxLabel:true,
      formatter:v=>v.toFixed(1).replace("-","\u2212")},
    splitLine:{show:true,lineStyle:{color:"#d3d3d3",width:2.5,type:[10,5]}}});
  const n=p.rows.length,idx=p.names.map((_,k)=>k);
  // blank label slots at both ends keep every feature label from being dropped by the overlap check
  const labelSlots=[-.45,...idx,n-.55];
  yAxis.push({gridIndex:i,type:"value",inverse:true,min:-.5,max:n-.5,name:"Features",nameLocation:"middle",nameGap:965,nameRotate:90,
    nameTextStyle:{...txt,fontSize:54,padding:[0,14,0,0]},
    axisLine:{show:true,onZero:false,lineStyle:{color:"#000",width:3}},
    axisTick:{show:true,length:13,customValues:idx,lineStyle:{color:"#000",width:3}},
    axisLabel:{...txt,fontSize:36,lineHeight:28,margin:49,align:"right",customValues:labelSlots,hideOverlap:false,
      formatter:v=>p.names[v]?p.names[v].split("\n").map(s=>"{t|"+s+"}").join("\n"):" ",
      rich:{t:{...txt,fontSize:36.3,lineHeight:28,align:"right"}}},
    splitLine:{show:false}});
  const data=[];
  p.rows.forEach((r,k)=>{for(let j=0;j<r.length;j+=3)data.push([r[j],k+r[j+1],r[j+2]]);});
  series.push({type:"scatter",xAxisIndex:i,yAxisIndex:i,data,symbol:"circle",symbolSize:18,silent:true,
    itemStyle:{opacity:.72,borderColor:"#111",borderWidth:1.5},progressive:0,animation:false});
});
// colour bar
grid.push({left:LEFT,width:WIDTH,top:2357,height:23,show:false,outerBoundsMode:"none"});
xAxis.push({gridIndex:3,type:"value",min:0,max:1,interval:.2,name:"Feature values (min-max normalized)",nameLocation:"middle",nameGap:67,
  nameTextStyle:{...txt,fontSize:51},
  axisLine:{show:false,onZero:false},splitLine:{show:false},
  axisTick:{show:true,length:12,lineStyle:{color:"#000",width:2.5}},
  axisLabel:{...txt,fontSize:35,margin:22,formatter:v=>v.toFixed(1),showMinLabel:true,showMaxLabel:true}});
yAxis.push({gridIndex:3,type:"value",min:0,max:1,show:false});
series.push({type:"custom",xAxisIndex:3,yAxisIndex:3,data:[[0,0,1,1]],silent:true,animation:false,
  renderItem:(params,api)=>{
    const a=api.coord([api.value(0),api.value(3)]),b=api.coord([api.value(2),api.value(1)]);
    return {type:"rect",shape:{x:a[0],y:a[1],width:b[0]-a[0],height:b[1]-a[1]},
      style:{stroke:"#000",lineWidth:3,fill:new echarts.graphic.LinearGradient(0,0,1,0,coolwarm.map((c,i)=>({offset:i/(coolwarm.length-1),color:c})))}};
  }});
const letter=(t,top)=>({text:t,left:5,top,textStyle:{fontFamily:"Liberation Sans",fontWeight:"bold",fontSize:28,color:"#000"},padding:0});
const chart=echarts.init(document.getElementById("c"),null,{renderer:"canvas"});
chart.setOption({animation:false,backgroundColor:"#fff",
  title:[letter("A",1),letter("B",737),letter("C",1506)],
  grid,xAxis,yAxis,series,
  visualMap:{show:false,type:"continuous",seriesIndex:[0,1,2],dimension:2,min:0,max:1,inRange:{color:coolwarm}}
});
</script></body></html>
